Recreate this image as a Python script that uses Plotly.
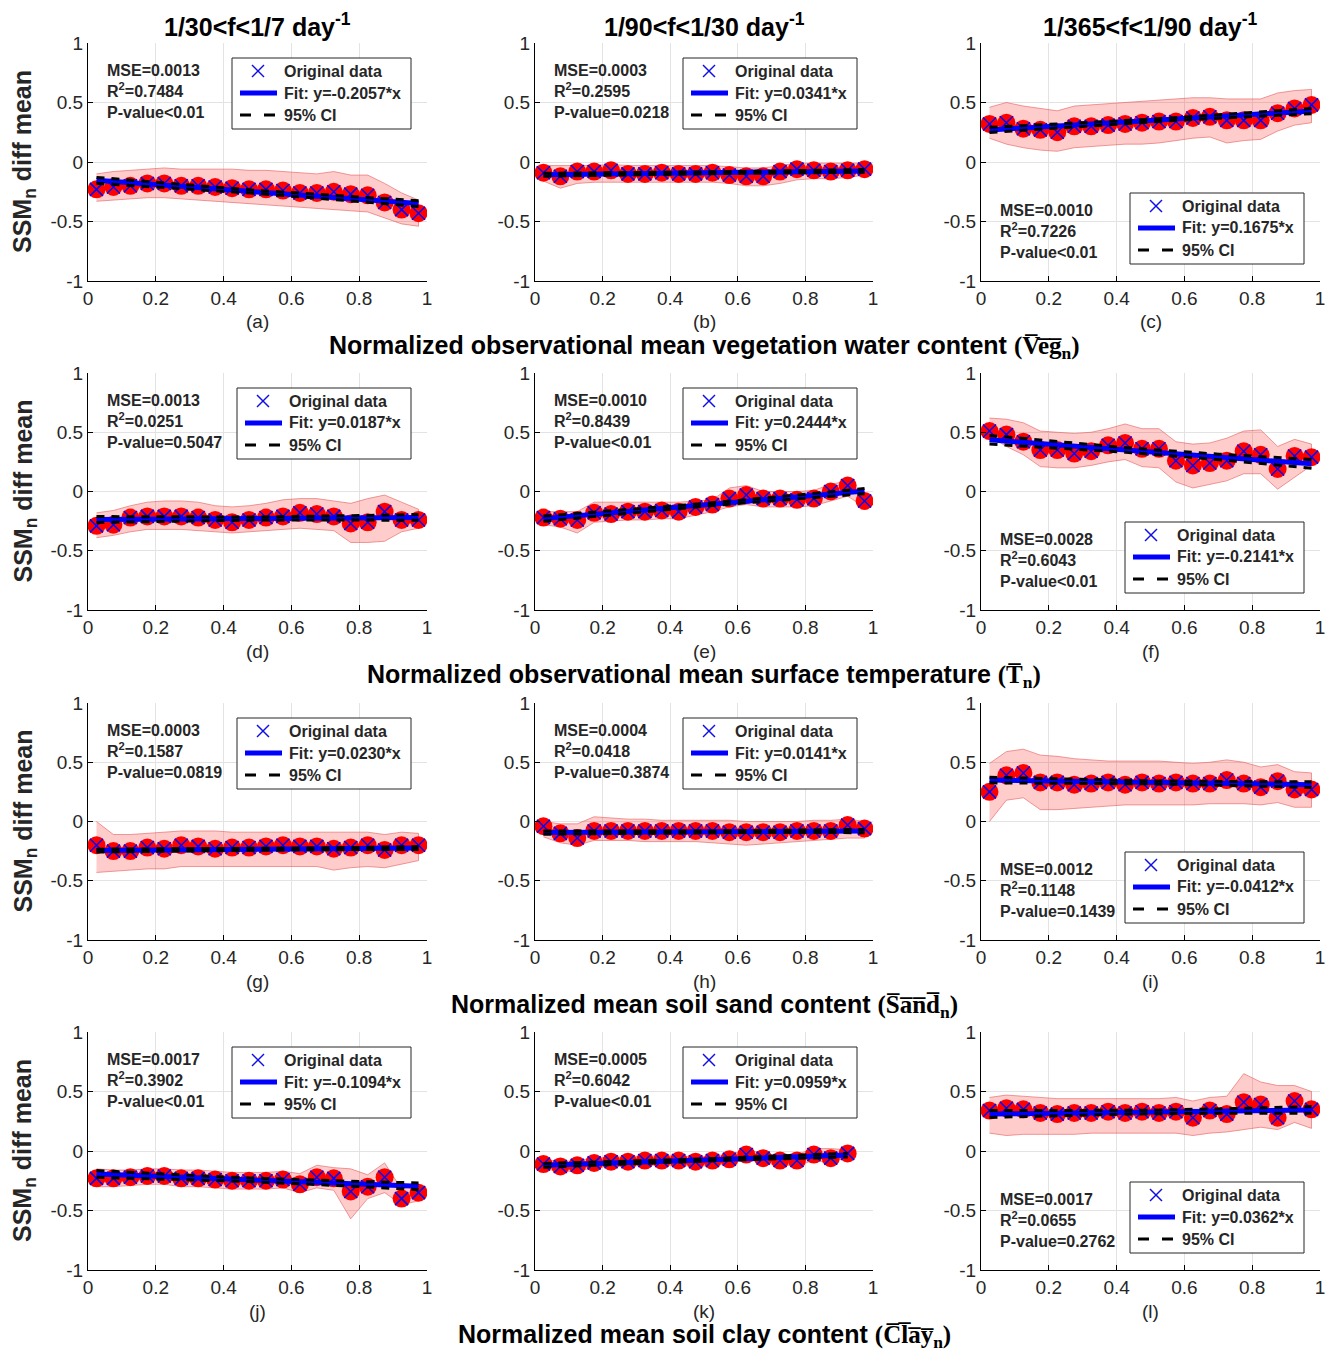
import numpy as np
import plotly.graph_objects as go

# ---------------- data ----------------
x_bins = [0.025, 0.075, 0.125, 0.175, 0.225, 0.275, 0.325, 0.375, 0.425, 0.475,
          0.525, 0.575, 0.625, 0.675, 0.725, 0.775, 0.825, 0.875, 0.925, 0.975]
x_bins_k = x_bins[:19]

col_titles = ["1/30&lt;f&lt;1/7 day<sup>-1</sup>", "1/90&lt;f&lt;1/30 day<sup>-1</sup>",
              "1/365&lt;f&lt;1/90 day<sup>-1</sup>"]
row_labels = [
    ("Normalized observational mean vegetation water content", "V̅e̅g̅"),
    ("Normalized observational mean surface temperature", "T̅"),
    ("Normalized mean soil sand content", "S̅a̅n̅d̅"),
    ("Normalized mean soil clay content", "C̅l̅a̅y̅"),
]
panel_letters = ["a", "b", "c", "d", "e", "f", "g", "h", "i", "j", "k", "l"]
legend_names = ["Original data", "Fit", "95% CI"]
x_tickvals = [0, 0.2, 0.4, 0.6, 0.8, 1]
x_ticktext = ["0", "0.2", "0.4", "0.6", "0.8", "1"]
y_tickvals = [-1, -0.5, 0, 0.5, 1]
y_ticktext = ["-1", "-0.5", "0", "0.5", "1"]

y_a = [-0.23, -0.21, -0.20, -0.18, -0.18, -0.20, -0.20, -0.21, -0.22, -0.23, -0.23, -0.24, -0.26, -0.26, -0.25, -0.27, -0.28, -0.34, -0.40, -0.43]
up_a = [-0.10, -0.08, -0.07, -0.06, -0.05, -0.06, -0.06, -0.06, -0.06, -0.07, -0.07, -0.08, -0.09, -0.10, -0.08, -0.11, -0.11, -0.18, -0.26, -0.32]
lo_a = [-0.33, -0.32, -0.31, -0.30, -0.30, -0.31, -0.32, -0.33, -0.34, -0.35, -0.36, -0.37, -0.38, -0.39, -0.40, -0.41, -0.42, -0.47, -0.52, -0.54]

y_b = [-0.09, -0.12, -0.08, -0.08, -0.07, -0.10, -0.10, -0.09, -0.10, -0.10, -0.09, -0.11, -0.12, -0.12, -0.08, -0.06, -0.07, -0.08, -0.07, -0.06]
up_b = [-0.03, -0.03, -0.03, -0.03, -0.02, -0.03, -0.03, -0.03, -0.03, -0.03, -0.03, -0.04, -0.05, -0.05, -0.03, -0.01, -0.01, -0.01, -0.01, -0.01]
lo_b = [-0.16, -0.22, -0.18, -0.17, -0.17, -0.17, -0.17, -0.17, -0.17, -0.17, -0.17, -0.18, -0.20, -0.20, -0.18, -0.15, -0.14, -0.14, -0.13, -0.11]

y_c = [0.32, 0.33, 0.28, 0.27, 0.25, 0.30, 0.30, 0.31, 0.32, 0.33, 0.34, 0.34, 0.37, 0.38, 0.35, 0.35, 0.35, 0.41, 0.45, 0.48]
up_c = [0.46, 0.50, 0.47, 0.45, 0.43, 0.47, 0.48, 0.49, 0.50, 0.51, 0.52, 0.53, 0.54, 0.54, 0.53, 0.53, 0.53, 0.58, 0.60, 0.61]
lo_c = [0.20, 0.15, 0.12, 0.10, 0.09, 0.12, 0.13, 0.14, 0.15, 0.15, 0.16, 0.18, 0.20, 0.21, 0.16, 0.18, 0.19, 0.26, 0.31, 0.33]

y_d = [-0.29, -0.28, -0.22, -0.21, -0.21, -0.21, -0.22, -0.24, -0.26, -0.24, -0.22, -0.21, -0.18, -0.19, -0.21, -0.27, -0.26, -0.17, -0.24, -0.24]
up_d = [-0.18, -0.16, -0.12, -0.09, -0.08, -0.08, -0.09, -0.12, -0.13, -0.12, -0.10, -0.07, -0.06, -0.06, -0.08, -0.10, -0.06, -0.03, -0.09, -0.15]
lo_d = [-0.39, -0.37, -0.34, -0.32, -0.32, -0.32, -0.33, -0.34, -0.35, -0.34, -0.33, -0.32, -0.31, -0.32, -0.33, -0.43, -0.43, -0.42, -0.34, -0.31]

y_e = [-0.22, -0.23, -0.24, -0.18, -0.19, -0.17, -0.17, -0.16, -0.17, -0.13, -0.11, -0.06, -0.03, -0.06, -0.06, -0.07, -0.06, 0.00, 0.05, -0.08]
up_e = [-0.17, -0.17, -0.17, -0.09, -0.09, -0.09, -0.09, -0.09, -0.09, -0.08, -0.07, 0.03, 0.05, 0.00, 0.00, 0.00, 0.01, 0.06, 0.09, -0.03]
lo_e = [-0.28, -0.30, -0.35, -0.26, -0.25, -0.24, -0.24, -0.23, -0.23, -0.20, -0.17, -0.13, -0.11, -0.13, -0.13, -0.13, -0.12, -0.08, -0.04, -0.13]

y_f = [0.51, 0.48, 0.42, 0.35, 0.35, 0.32, 0.34, 0.39, 0.41, 0.36, 0.36, 0.26, 0.22, 0.24, 0.26, 0.34, 0.31, 0.19, 0.30, 0.29]
up_f = [0.62, 0.61, 0.58, 0.51, 0.50, 0.49, 0.50, 0.53, 0.57, 0.53, 0.53, 0.42, 0.40, 0.41, 0.45, 0.51, 0.52, 0.38, 0.44, 0.40]
lo_f = [0.47, 0.38, 0.31, 0.21, 0.20, 0.20, 0.22, 0.25, 0.27, 0.21, 0.20, 0.08, 0.03, 0.06, 0.09, 0.15, 0.15, 0.02, 0.12, 0.22]

y_g = [-0.20, -0.25, -0.25, -0.22, -0.23, -0.20, -0.21, -0.23, -0.22, -0.22, -0.21, -0.20, -0.21, -0.21, -0.23, -0.22, -0.20, -0.24, -0.20, -0.20]
up_g = [0.00, -0.11, -0.11, -0.10, -0.09, -0.08, -0.08, -0.08, -0.09, -0.09, -0.09, -0.09, -0.09, -0.09, -0.09, -0.09, -0.09, -0.11, -0.09, -0.10]
lo_g = [-0.43, -0.42, -0.41, -0.40, -0.40, -0.38, -0.38, -0.38, -0.38, -0.38, -0.38, -0.38, -0.38, -0.38, -0.41, -0.39, -0.38, -0.39, -0.36, -0.33]

y_h = [-0.04, -0.10, -0.14, -0.08, -0.08, -0.08, -0.08, -0.08, -0.08, -0.08, -0.08, -0.09, -0.09, -0.09, -0.09, -0.08, -0.08, -0.08, -0.03, -0.06]
up_h = [0.00, -0.02, -0.02, 0.04, 0.03, 0.02, 0.02, 0.01, 0.01, 0.01, 0.01, 0.01, 0.00, 0.00, 0.00, 0.00, 0.01, 0.01, 0.02, 0.00]
lo_h = [-0.13, -0.18, -0.20, -0.16, -0.16, -0.16, -0.17, -0.17, -0.17, -0.17, -0.18, -0.19, -0.20, -0.19, -0.18, -0.17, -0.16, -0.15, -0.14, -0.14]

y_i = [0.25, 0.39, 0.41, 0.33, 0.33, 0.31, 0.32, 0.33, 0.31, 0.33, 0.32, 0.33, 0.32, 0.32, 0.35, 0.32, 0.29, 0.34, 0.27, 0.27]
up_i = [0.49, 0.59, 0.61, 0.56, 0.55, 0.53, 0.52, 0.51, 0.51, 0.51, 0.51, 0.50, 0.49, 0.50, 0.52, 0.50, 0.46, 0.48, 0.42, 0.41]
lo_i = [0.00, 0.18, 0.20, 0.10, 0.10, 0.11, 0.12, 0.13, 0.14, 0.14, 0.14, 0.14, 0.14, 0.15, 0.15, 0.15, 0.14, 0.16, 0.12, 0.12]

y_j = [-0.23, -0.23, -0.22, -0.21, -0.21, -0.23, -0.23, -0.24, -0.25, -0.25, -0.25, -0.24, -0.28, -0.22, -0.23, -0.34, -0.30, -0.22, -0.40, -0.35]
up_j = [-0.15, -0.16, -0.16, -0.15, -0.15, -0.16, -0.16, -0.17, -0.18, -0.18, -0.18, -0.17, -0.19, -0.12, -0.14, -0.15, -0.20, -0.10, -0.32, -0.28]
lo_j = [-0.30, -0.30, -0.29, -0.28, -0.28, -0.30, -0.30, -0.31, -0.32, -0.32, -0.32, -0.31, -0.35, -0.31, -0.33, -0.57, -0.40, -0.35, -0.45, -0.42]

y_k = [-0.11, -0.13, -0.12, -0.10, -0.09, -0.09, -0.08, -0.08, -0.08, -0.09, -0.08, -0.07, -0.03, -0.06, -0.08, -0.08, -0.03, -0.06, -0.02]
up_k = [-0.07, -0.09, -0.08, -0.06, -0.05, -0.05, -0.04, -0.04, -0.04, -0.05, -0.04, -0.03, 0.01, -0.02, -0.04, -0.03, 0.02, 0.02, 0.01]
lo_k = [-0.15, -0.17, -0.17, -0.14, -0.13, -0.13, -0.12, -0.12, -0.12, -0.13, -0.12, -0.11, -0.07, -0.10, -0.12, -0.12, -0.08, -0.10, -0.05]

y_l = [0.34, 0.36, 0.35, 0.32, 0.31, 0.32, 0.32, 0.33, 0.32, 0.33, 0.32, 0.33, 0.28, 0.34, 0.31, 0.41, 0.39, 0.28, 0.42, 0.35]
up_l = [0.45, 0.47, 0.46, 0.45, 0.44, 0.44, 0.44, 0.44, 0.44, 0.44, 0.44, 0.45, 0.42, 0.45, 0.46, 0.65, 0.58, 0.55, 0.55, 0.50]
lo_l = [0.15, 0.13, 0.14, 0.14, 0.14, 0.14, 0.15, 0.15, 0.15, 0.15, 0.15, 0.15, 0.13, 0.15, 0.16, 0.18, 0.20, 0.18, 0.24, 0.19]

fit_slopes = [-0.2057, 0.0341, 0.1675, 0.0187, 0.2444, -0.2141, 0.0230, 0.0141, -0.0412, -0.1094, 0.0959, 0.0362]
fit_intercepts = [-0.149, -0.108, 0.265, -0.237, -0.235, 0.442, -0.246, -0.094, 0.351, -0.190, -0.123, 0.310]
mse_vals = ["0.0013", "0.0003", "0.0010", "0.0013", "0.0010", "0.0028", "0.0003", "0.0004", "0.0012", "0.0017", "0.0005", "0.0017"]
r2_vals = ["0.7484", "0.2595", "0.7226", "0.0251", "0.8439", "0.6043", "0.1587", "0.0418", "0.1148", "0.3902", "0.6042", "0.0655"]
p_vals = ["&lt;0.01", "=0.0218", "&lt;0.01", "=0.5047", "&lt;0.01", "&lt;0.01", "=0.0819", "=0.3874", "=0.1439", "&lt;0.01", "&lt;0.01", "=0.2762"]

series_x = [x_bins] * 10 + [x_bins_k, x_bins]
series_y = [y_a, y_b, y_c, y_d, y_e, y_f, y_g, y_h, y_i, y_j, y_k, y_l]
series_up = [up_a, up_b, up_c, up_d, up_e, up_f, up_g, up_h, up_i, up_j, up_k, up_l]
series_lo = [lo_a, lo_b, lo_c, lo_d, lo_e, lo_f, lo_g, lo_h, lo_i, lo_j, lo_k, lo_l]
box_place = ["top", "top", "bottom", "top", "top", "bottom", "top", "top", "bottom", "top", "top", "bottom"]

# ---------------- layout ----------------
PAGE_W, PAGE_H = 1334, 1352
BODY = 8  # default page margin around the plot div
W, H = PAGE_W - BODY, PAGE_H - BODY
col_px = [(88, 427), (535, 873), (981, 1320)]
row_px = [(43, 281), (373, 610), (703, 940), (1032, 1270)]
FONT = "Liberation Sans, Arial, Helvetica, sans-serif"
SERIF = "Liberation Serif, Times New Roman, serif"
TXT = "#262626"
BLUE = "#0000ff"
DASH = "8px,7px"


def px_x(p):
    return (p - BODY) / W


def px_y(p):
    return 1 - (p - BODY) / H


fig = go.Figure()
annotations = []
shapes = []
layout = {}


def paper_line(xa, ya, xb, yb, color, width, dash="solid"):
    shapes.append(dict(type="line", xref="paper", yref="paper",
                       x0=px_x(xa), y0=px_y(ya), x1=px_x(xb), y1=px_y(yb),
                       line=dict(color=color, width=width, dash=dash), layer="above"))


def draw_legend(xr, yt, fit_label):
    w = 179 if "-" in fit_label else 174
    xl = xr - w
    shapes.append(dict(type="rect", xref="paper", yref="paper",
                       x0=px_x(xl), x1=px_x(xr), y0=px_y(yt + 71), y1=px_y(yt),
                       line=dict(color=TXT, width=1), fillcolor="white", layer="above"))
    cys = [yt + 13, yt + 35, yt + 57]
    cx = xl + 26
    paper_line(cx - 6, cys[0] - 6, cx + 6, cys[0] + 6, "#1010e0", 1.5)
    paper_line(cx - 6, cys[0] + 6, cx + 6, cys[0] - 6, "#1010e0", 1.5)
    paper_line(xl + 8, cys[1], xl + 45, cys[1], BLUE, 5)
    paper_line(xl + 8, cys[2], xl + 45, cys[2], "black", 3, "11px,13px")
    for cy, label in zip(cys, [legend_names[0], fit_label, legend_names[2]]):
        annotations.append(dict(
            x=px_x(xl + 50), y=px_y(cy), xref="paper", yref="paper",
            xanchor="left", yanchor="middle", showarrow=False, text=label,
            font=dict(family=FONT, size=16, color=TXT, weight="bold")))


for idx in range(12):
    r, c = divmod(idx, 3)
    n = idx + 1
    sfx = "" if n == 1 else str(n)
    xref, yref = "x" + sfx, "y" + sfx
    xs = np.array(series_x[idx])
    ys = np.array(series_y[idx])
    up = np.array(series_up[idx])
    lo = np.array(series_lo[idx])

    # shaded band
    fig.add_trace(go.Scatter(
        x=np.concatenate([xs, xs[::-1]]), y=np.concatenate([up, lo[::-1]]),
        fill="toself", fillcolor="rgba(255,0,0,0.2)",
        line=dict(color="rgba(230,90,90,0.6)", width=1),
        mode="lines", showlegend=False, hoverinfo="skip", xaxis=xref, yaxis=yref))
    # red circles
    fig.add_trace(go.Scatter(
        x=xs, y=ys, mode="markers",
        marker=dict(symbol="circle", size=18, color="#ff0000", line=dict(width=0)),
        showlegend=False, xaxis=xref, yaxis=yref))
    # blue crosses
    fig.add_trace(go.Scatter(
        x=xs, y=ys, mode="markers", name=legend_names[0],
        marker=dict(symbol="x-thin-open", size=13, color=BLUE, line=dict(width=1.5, color="#1010e0")),
        showlegend=False, xaxis=xref, yaxis=yref))
    # fit line
    s, b = fit_slopes[idx], fit_intercepts[idx]
    fit_label = f"Fit: y={s:.4f}*x"
    xf = np.array([xs[0], xs[-1]])
    fig.add_trace(go.Scatter(
        x=xf, y=s * xf + b, mode="lines", name=fit_label,
        line=dict(color=BLUE, width=5), showlegend=False, xaxis=xref, yaxis=yref))
    # confidence bounds
    xc = np.linspace(xs[0], xs[-1], 60)
    nn = len(xs)
    xm = xs.mean()
    sxx = ((xs - xm) ** 2).sum()
    hw = 1.6 * np.sqrt(float(mse_vals[idx])) * np.sqrt(1 / nn + (xc - xm) ** 2 / sxx)
    yc = s * xc + b
    for sign in (1, -1):
        fig.add_trace(go.Scatter(
            x=xc, y=yc + sign * hw, mode="lines", name=legend_names[2],
            line=dict(color="black", width=3, dash=DASH), showlegend=False,
            xaxis=xref, yaxis=yref))

    x0, x1 = col_px[c]
    y0, y1 = row_px[r]
    axis_common = dict(showline=True, linecolor="black", linewidth=1, mirror=False,
                       ticks="inside", ticklen=5, tickcolor="black", automargin=False,
                       showgrid=True, gridcolor="#e3e3e3", gridwidth=1, zeroline=False,
                       tickfont=dict(family=FONT, size=19, color=TXT), fixedrange=True)
    layout["xaxis" + sfx] = dict(domain=[px_x(x0), px_x(x1)], anchor=yref, range=[0, 1],
                                 tickvals=x_tickvals, ticktext=x_ticktext, **axis_common)
    layout["yaxis" + sfx] = dict(domain=[px_y(y1), px_y(y0)], anchor=xref, range=[-1, 1],
                                 tickvals=y_tickvals, ticktext=y_ticktext, **axis_common)

    if box_place[idx] == "top":
        draw_legend(x1 - 16, y0 + 15, fit_label)
        ty, tanchor = px_y(y0 + 17), "top"
    else:
        draw_legend(x1 - 16, y1 - 17 - 71, fit_label)
        ty, tanchor = px_y(y1 - 18), "bottom"

    annotations.append(dict(
        x=px_x(x0 + 17), y=ty, xref="paper", yref="paper", xanchor="left", yanchor=tanchor,
        align="left", showarrow=False,
        text=f"MSE={mse_vals[idx]}<br>R<sup>2</sup>={r2_vals[idx]}<br>P-value{p_vals[idx]}",
        font=dict(family=FONT, size=16, color=TXT, weight="bold")))

    # panel letter
    annotations.append(dict(
        x=px_x((x0 + x1) / 2), y=px_y(y1 + 41), xref="paper", yref="paper",
        xanchor="center", yanchor="middle", showarrow=False,
        text=f"({panel_letters[idx]})", font=dict(family=FONT, size=19, color=TXT)))

# column titles
for c in range(3):
    x0, x1 = col_px[c]
    annotations.append(dict(
        x=px_x((x0 + x1) / 2), y=px_y(25), xref="paper", yref="paper",
        xanchor="center", yanchor="middle", showarrow=False,
        text=col_titles[c], font=dict(family=FONT, size=25, color="black", weight="bold")))

# row labels (y titles and x titles)
for r in range(4):
    y0, y1 = row_px[r]
    annotations.append(dict(
        x=px_x(24), y=px_y((y0 + y1) / 2), xref="paper", yref="paper",
        xanchor="center", yanchor="middle", showarrow=False, textangle=-90,
        text="SSM<sub>n</sub> diff mean", font=dict(family=FONT, size=25, color=TXT, weight="bold")))
    words, sym = row_labels[r]
    annotations.append(dict(
        x=px_x((col_px[1][0] + col_px[1][1]) / 2), y=px_y(y1 + 66), xref="paper", yref="paper",
        xanchor="center", yanchor="middle", showarrow=False,
        text=(f"{words} <span style=\"font-family:{SERIF}\">(<b>{sym}<sub>n</sub></b>)</span>"),
        font=dict(family=FONT, size=25, color="black", weight="bold")))

fig.update_layout(
    width=W, height=H, margin=dict(l=0, r=0, t=0, b=0, autoexpand=False),
    paper_bgcolor="white", plot_bgcolor="white", showlegend=False,
    annotations=annotations, shapes=shapes, **layout)

fig.write_html("out.html")
